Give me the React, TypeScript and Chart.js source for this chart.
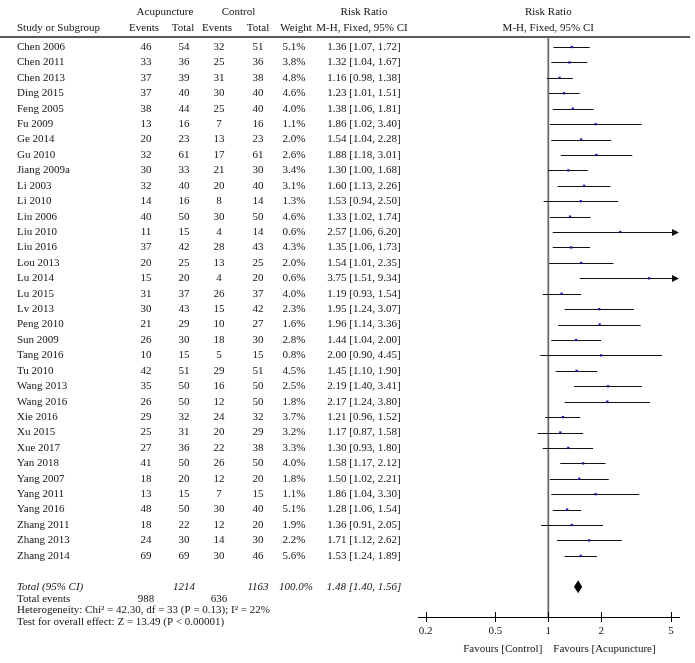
import React, { useEffect, useRef } from 'react';
import { Chart, registerables } from 'chart.js';

Chart.register(...registerables);

const studies = ['Chen 2006','Chen 2011','Chen 2013','Ding 2015','Feng 2005','Fu 2009','Ge 2014','Gu 2010','Jiang 2009a','Li 2003','Li 2010','Liu 2006','Liu 2010','Liu 2016','Lou 2013','Lu 2014','Lu 2015','Lv 2013','Peng 2010','Sun 2009','Tang 2016','Tu 2010','Wang 2013','Wang 2016','Xie 2016','Xu 2015','Xue 2017','Yan 2018','Yang 2007','Yang 2011','Yang 2016','Zhang 2011','Zhang 2013','Zhang 2014'];
const acuEvents = [46,33,37,37,38,13,20,32,30,32,14,40,11,37,20,15,31,30,21,26,10,42,35,26,29,25,27,41,18,13,48,18,24,69];
const acuTotal = [54,36,39,40,44,16,23,61,33,40,16,50,15,42,25,20,37,43,29,30,15,51,50,50,32,31,36,50,20,15,50,22,30,69];
const ctrlEvents = [32,25,31,30,25,7,13,17,21,20,8,30,4,28,13,4,26,15,10,18,5,29,16,12,24,20,22,26,12,7,30,12,14,30];
const ctrlTotal = [51,36,38,40,40,16,23,61,30,40,14,50,14,43,25,20,37,42,27,30,15,51,50,50,32,29,38,50,20,15,40,20,30,46];
const weights = [5.1,3.8,4.8,4.6,4.0,1.1,2.0,2.6,3.4,3.1,1.3,4.6,0.6,4.3,2.0,0.6,4.0,2.3,1.6,2.8,0.8,4.5,2.5,1.8,3.7,3.2,3.3,4.0,1.8,1.1,5.1,1.9,2.2,5.6];
const riskRatio = [1.36,1.32,1.16,1.23,1.38,1.86,1.54,1.88,1.30,1.60,1.53,1.33,2.57,1.35,1.54,3.75,1.19,1.95,1.96,1.44,2.00,1.45,2.19,2.17,1.21,1.17,1.30,1.58,1.50,1.86,1.28,1.36,1.71,1.53];
const lowerCI = [1.07,1.04,0.98,1.01,1.06,1.02,1.04,1.18,1.00,1.13,0.94,1.02,1.06,1.06,1.01,1.51,0.93,1.24,1.14,1.04,0.90,1.10,1.40,1.24,0.96,0.87,0.93,1.17,1.02,1.04,1.06,0.91,1.12,1.24];
const upperCI = [1.72,1.67,1.38,1.51,1.81,3.40,2.28,3.01,1.68,2.26,2.50,1.74,6.20,1.73,2.35,9.34,1.54,3.07,3.36,2.00,4.45,1.90,3.41,3.80,1.52,1.58,1.80,2.12,2.21,3.30,1.54,2.05,2.62,1.89];

const totalRR = 1.48;
const totalLower = 1.40;
const totalUpper = 1.56;
const totalAcuN = 1214;
const totalCtrlN = 1163;
const totalAcuEvents = 988;
const totalCtrlEvents = 636;
const heterogeneityText = 'Heterogeneity: Chi\u00B2 = 42.30, df = 33 (P = 0.13); I\u00B2 = 22%';
const overallText = 'Test for overall effect: Z = 13.49 (P < 0.00001)';

const tickValues = [0.2, 0.5, 1, 2, 5];
const tickLabels = ['0.2', '0.5', '1', '2', '5'];

const FONT = '"Liberation Serif", "Times New Roman", serif';
const FS = 11;
const TEXT = '#151515';

const fmt2 = (v: number) => v.toFixed(2);
const ciText = (r: number, l: number, u: number) => `${fmt2(r)} [${fmt2(l)}, ${fmt2(u)}]`;

const COL = { study: 17, ae: 146, at: 184, ce: 219, ct: 258, w: 294, ci: 364 };

const forestPlugin = {
  id: 'forest',
  beforeDatasetsDraw(chart: any) {
    const { ctx, chartArea, scales } = chart;
    const xs = scales.x;
    const ys = scales.y;
    ctx.save();
    // header rule
    ctx.strokeStyle = '#222';
    ctx.lineWidth = 1.3;
    ctx.beginPath();
    ctx.moveTo(0, chartArea.top);
    ctx.lineTo(690, chartArea.top);
    ctx.stroke();
    // line of no effect
    const x1 = xs.getPixelForValue(1);
    ctx.strokeStyle = '#6a6a6a';
    ctx.lineWidth = 1.8;
    ctx.beginPath();
    ctx.moveTo(x1, chartArea.top);
    ctx.lineTo(x1, chartArea.bottom);
    ctx.stroke();
    // CI lines
    ctx.strokeStyle = '#111';
    ctx.fillStyle = '#111';
    ctx.lineWidth = 1;
    const maxV = xs.max;
    for (let i = 0; i < studies.length; i++) {
      const y = Math.round(ys.getPixelForValue(i)) + 0.5;
      const xl = xs.getPixelForValue(Math.max(lowerCI[i], xs.min));
      const over = upperCI[i] > maxV;
      const xr = xs.getPixelForValue(Math.min(upperCI[i], maxV));
      ctx.beginPath();
      ctx.moveTo(xl, y);
      ctx.lineTo(over ? xr - 4 : xr, y);
      ctx.stroke();
      if (over) {
        ctx.beginPath();
        ctx.moveTo(xr, y);
        ctx.lineTo(xr - 7, y - 3.5);
        ctx.lineTo(xr - 7, y + 3.5);
        ctx.closePath();
        ctx.fill();
      }
    }
    // diamond
    const yt = ys.getPixelForValue(studies.length + 1);
    ctx.fillStyle = '#000';
    ctx.beginPath();
    ctx.moveTo(xs.getPixelForValue(totalLower), yt);
    ctx.lineTo(xs.getPixelForValue(totalRR), yt - 6.5);
    ctx.lineTo(xs.getPixelForValue(totalUpper), yt);
    ctx.lineTo(xs.getPixelForValue(totalRR), yt + 6.5);
    ctx.closePath();
    ctx.fill();
    ctx.restore();
  },
  afterDraw(chart: any) {
    const { ctx, chartArea, scales } = chart;
    const xs = scales.x;
    const ys = scales.y;
    ctx.save();
    // axis ticks crossing the axis
    ctx.strokeStyle = '#000';
    ctx.lineWidth = 1;
    for (const v of tickValues) {
      const x = Math.round(xs.getPixelForValue(v)) + 0.5;
      ctx.beginPath();
      ctx.moveTo(x, chartArea.bottom - 5);
      ctx.lineTo(x, chartArea.bottom + 5);
      ctx.stroke();
    }
    ctx.fillStyle = TEXT;
    ctx.textBaseline = 'middle';
    ctx.font = `${FS}px ${FONT}`;
    const txt = (s: string, x: number, y: number, align: CanvasTextAlign) => {
      ctx.textAlign = align;
      ctx.fillText(s, x, y);
    };
    // headers
    const h1 = 12;
    const h2 = 28;
    txt('Acupuncture', (COL.ae + COL.at) / 2, h1, 'center');
    txt('Control', (COL.ce + COL.ct) / 2, h1, 'center');
    txt('Risk Ratio', COL.ci, h1, 'center');
    txt('Study or Subgroup', COL.study, h2, 'left');
    txt('Events', COL.ae - 2, h2, 'center');
    txt('Total', COL.at - 1, h2, 'center');
    txt('Events', COL.ce - 2, h2, 'center');
    txt('Total', COL.ct, h2, 'center');
    txt('Weight', COL.w + 2, h2, 'center');
    txt('M-H, Fixed, 95% CI', COL.ci - 2, h2, 'center');
    const x1 = xs.getPixelForValue(1);
    txt('Risk Ratio', x1, h1, 'center');
    txt('M-H, Fixed, 95% CI', x1, h2, 'center');
    // rows
    for (let i = 0; i < studies.length; i++) {
      const y = ys.getPixelForValue(i);
      txt(studies[i], COL.study, y, 'left');
      txt(String(acuEvents[i]), COL.ae, y, 'center');
      txt(String(acuTotal[i]), COL.at, y, 'center');
      txt(String(ctrlEvents[i]), COL.ce, y, 'center');
      txt(String(ctrlTotal[i]), COL.ct, y, 'center');
      txt(weights[i].toFixed(1) + '%', COL.w, y, 'center');
      txt(ciText(riskRatio[i], lowerCI[i], upperCI[i]), COL.ci, y, 'center');
    }
    // total row
    const yt = ys.getPixelForValue(studies.length + 1);
    ctx.font = `italic ${FS}px ${FONT}`;
    txt('Total (95% CI)', COL.study, yt, 'left');
    txt(String(totalAcuN), COL.at, yt, 'center');
    txt(String(totalCtrlN), COL.ct, yt, 'center');
    txt('100.0%', COL.w + 2, yt, 'center');
    txt(ciText(totalRR, totalLower, totalUpper), COL.ci, yt, 'center');
    ctx.font = `${FS}px ${FONT}`;
    const ye = yt + 12.5;
    txt('Total events', COL.study, ye, 'left');
    txt(String(totalAcuEvents), COL.ae, ye, 'center');
    txt(String(totalCtrlEvents), COL.ce, ye, 'center');
    txt(heterogeneityText, COL.study, ye + 11, 'left');
    txt(overallText, COL.study, ye + 23, 'left');
    // favours
    const yf = 649;
    txt('Favours [Control]', x1 - 6, yf, 'right');
    txt('Favours [Acupuncture]', x1 + 5, yf, 'left');
    ctx.restore();
  },
};

export default function App() {
  const ref = useRef<HTMLCanvasElement | null>(null);
  useEffect(() => {
    if (!ref.current) return;
    const axisLeftPx = 418;
    const axisRightPx = 679;
    const onePx = 548.3;
    const pxPerDecade = 175.5;
    const xMin = Math.pow(10, (axisLeftPx - onePx) / pxPerDecade);
    const xMax = Math.pow(10, (axisRightPx - onePx) / pxPerDecade);
    const rowTop = 47;
    const rowStep = 15.42;
    const topPx = 37;
    const bottomPx = 617;
    const chart = new Chart(ref.current, {
      type: 'scatter',
      data: {
        datasets: [
          {
            data: riskRatio.map((v, i) => ({ x: v, y: i })),
            pointStyle: 'rect',
            pointRadius: 1.6,
            backgroundColor: '#1414a8',
            borderWidth: 0,
          },
        ],
      },
      options: {
        responsive: false,
        animation: false,
        events: [],
        layout: { padding: { left: axisLeftPx, right: 695 - axisRightPx, top: topPx, bottom: 0 } },
        plugins: { legend: { display: false }, tooltip: { enabled: false } },
        scales: {
          x: {
            type: 'logarithmic',
            min: xMin,
            max: xMax,
            bounds: 'data',
            afterBuildTicks: (s: any) => {
              s.ticks = tickValues.map((v) => ({ value: v }));
            },
            afterFit: (s: any) => {
              s.height = 663 - bottomPx;
            },
            grid: { display: false, drawTicks: false },
            border: { display: true, color: '#000', width: 1 },
            ticks: {
              autoSkip: false,
              maxRotation: 0,
              padding: 8,
              color: TEXT,
              font: { family: FONT, size: FS },
              callback: (v: any) => {
                const idx = tickValues.findIndex((t) => Math.abs(t - Number(v)) < 1e-9);
                return idx >= 0 ? tickLabels[idx] : '';
              },
            },
          },
          y: {
            type: 'linear',
            display: false,
            reverse: true,
            min: (topPx - rowTop) / rowStep,
            max: (bottomPx - rowTop) / rowStep,
          },
        },
      },
      plugins: [forestPlugin],
    } as any);
    return () => chart.destroy();
  }, []);
  return (
    <div style={{ position: 'fixed', left: 0, top: 0, width: 695, height: 663, background: '#fff' }}>
      <canvas ref={ref} width={695} height={663} />
    </div>
  );
}
